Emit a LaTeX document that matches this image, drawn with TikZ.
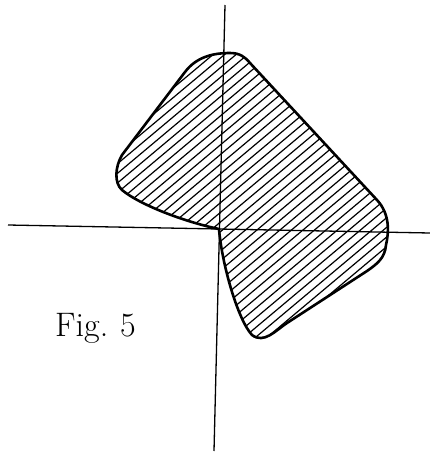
\documentclass[tikz,border=0pt]{standalone}
\usetikzlibrary{calc}
\begin{document}
\begin{tikzpicture}[x=1pt,y=-1pt,
  axisline/.style={line width=1.3pt,black},
  outline/.style={line width=2.6pt,black,line join=round},
  hatchline/.style={line width=1.2pt,black},
  figlabel/.style={anchor=base west,inner sep=0pt,font=\fontsize{34}{40}\selectfont}]
\useasboundingbox (0,0) rectangle (430,453);
% axes
\coordinate (vtop) at (225,5);
\coordinate (vbot) at (214,451);
\coordinate (hleft) at (8,225);
\coordinate (hright) at (430,233);
\draw[axisline] (vtop) -- (vbot);
\draw[axisline] (hleft) -- (hright);
% shape
\def\shapepath{(219,229) .. controls (185,222) and (140,205) .. (122,190)
  .. controls (114,183) and (115,167) .. (122,155)
  -- (185,72)
  .. controls (197,56) and (215,53) .. (230,53)
  .. controls (240,53) and (245,57) .. (250,63)
  -- (377,200)
  .. controls (390,214) and (389,232) .. (386,245)
  .. controls (385,258) and (377,264) .. (367,271)
  -- (287,323)
  .. controls (275,331) and (264,344) .. (252,335)
  .. controls (238,320) and (222,265) .. (219,229) -- cycle}
\begin{scope}
  \clip \shapepath;
  \foreach \k in {0,...,40} {
    \pgfmathsetmacro{\c}{214+9.65*\k}
    \draw[hatchline] (0,\c) -- (500,{\c-419.5});
  }
\end{scope}
\draw[outline] \shapepath;
\node[figlabel] (fig) at (55,336) {Fig.\hspace{12pt}5};
\end{tikzpicture}
\end{document}
